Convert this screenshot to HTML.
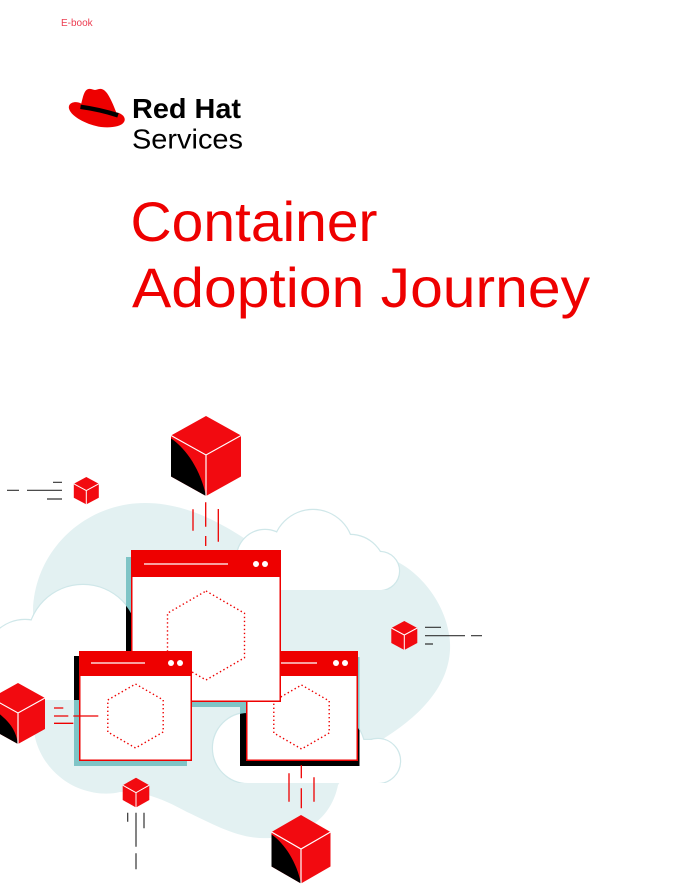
<!DOCTYPE html>
<html>
<head>
<meta charset="utf-8">
<style>
html,body{margin:0;padding:0;background:#fff;}
svg{display:block;}
</style>
</head>
<body>
<svg width="687" height="889" viewBox="0 0 687 889" xmlns="http://www.w3.org/2000/svg">
<defs>
  <g id="cT">
    <circle cx="265" cy="558" r="28"/>
    <circle cx="313" cy="550" r="40"/>
    <circle cx="350" cy="570" r="35"/>
    <circle cx="380" cy="571" r="19"/>
    <rect x="240" y="556" width="140" height="40"/>
  </g>
  <g id="cL">
    <circle cx="83" cy="640" r="55"/>
    <circle cx="25" cy="660" r="40"/>
    <rect x="-10" y="640" width="150" height="70"/>
  </g>
  <g id="cB">
    <circle cx="248" cy="748" r="35"/>
    <circle cx="320" cy="752" r="45"/>
    <circle cx="378" cy="761" r="22"/>
    <rect x="248" y="740" width="130" height="50"/>
  </g>
  <clipPath id="ctop"><rect x="200" y="480" width="220" height="110"/></clipPath>
  <clipPath id="cleft"><rect x="-20" y="560" width="200" height="140"/></clipPath>
  <clipPath id="cbr"><rect x="200" y="690" width="220" height="93"/></clipPath>
  <mask id="m" maskUnits="userSpaceOnUse" x="0" y="0" width="687" height="889">
    <path d="M33,720 L33,610 C35,550 85,503 145,503 C185,503 220,522 250,542 L300,550 L380,555 C420,565 452,610 450,650 C448,690 415,720 378,742 L345,775 L338,785 C333,810 315,835 270,838 C240,840 215,825 187,812 C165,800 145,791 120,792 C100,797 75,790 60,777 C45,765 33,745 33,720 Z" fill="#fff"/>
    <g clip-path="url(#ctop)"><use href="#cT" fill="#000"/></g>
    <g clip-path="url(#cleft)"><use href="#cL" fill="#000"/></g>
    <g clip-path="url(#cbr)"><use href="#cB" fill="#000"/></g>
  </mask>
</defs>

<!-- Header text -->
<text x="61" y="26" font-family="Liberation Sans, sans-serif" font-size="10" fill="#ec3c50">E-book</text>

<!-- Red Hat logo -->
<path d="M69,106 C70,102 77,101 81,103.5 L119,113 C124,115 126,119 124,122 C121,127 110,128 101,127 C88,125 74,118 70,111 C69,109 68.5,107.5 69,106 Z" fill="#ee0000"/>
<path d="M81,105 C83,97 84,90 88.5,89 C91,88.5 93,90 95,90 C97,90 99,88.5 101.5,89 C106,90 110,96 116.5,113 Z" fill="#ee0000"/>
<path d="M80.5,106.8 Q100,109.5 118,115.3" stroke="#000" stroke-width="4.5" fill="none"/>
<text x="132" y="118" font-family="Liberation Sans, sans-serif" font-size="28" font-weight="bold" fill="#000" textLength="109" lengthAdjust="spacingAndGlyphs">Red Hat</text>
<text x="132" y="148.5" font-family="Liberation Sans, sans-serif" font-size="28" fill="#000" textLength="111" lengthAdjust="spacingAndGlyphs">Services</text>

<!-- Title -->
<text x="130.5" y="241" font-family="Liberation Sans, sans-serif" font-size="56" fill="#ee0000" textLength="247" lengthAdjust="spacingAndGlyphs">Container</text>
<text x="132" y="307" font-family="Liberation Sans, sans-serif" font-size="56" fill="#ee0000" textLength="458" lengthAdjust="spacingAndGlyphs">Adoption Journey</text>

<!-- Blob -->
<path d="M33,720 L33,610 C35,550 85,503 145,503 C185,503 220,522 250,542 L300,550 L380,555 C420,565 452,610 450,650 C448,690 415,720 378,742 L345,775 L338,785 C333,810 315,835 270,838 C240,840 215,825 187,812 C165,800 145,791 120,792 C100,797 75,790 60,777 C45,765 33,745 33,720 Z" fill="#e3f1f2"/>

<!-- Clouds -->
<g clip-path="url(#ctop)"><use href="#cT" fill="#fff" stroke="#cfe7e9" stroke-width="2.4"/><use href="#cT" fill="#fff"/></g>
<g clip-path="url(#cleft)"><use href="#cL" fill="#fff" stroke="#cfe7e9" stroke-width="2.4"/><use href="#cL" fill="#fff"/></g>
<g clip-path="url(#cbr)"><use href="#cB" fill="#fff" stroke="#cfe7e9" stroke-width="2.4"/><use href="#cB" fill="#fff"/></g>

<!-- Shadows -->
<g fill="#000">
  <rect x="240" y="657" width="119.5" height="109"/>
  <rect x="126" y="557" width="150" height="150"/>
  <rect x="74" y="656" width="113" height="110"/>
</g>
<g fill="#7fc4c6" mask="url(#m)">
  <rect x="240" y="657" width="119.5" height="109"/>
  <rect x="126" y="557" width="150" height="150"/>
  <rect x="74" y="656" width="113" height="110"/>
</g>

<!-- Window 3 (lower right) -->
<rect x="246.75" y="651.75" width="110.5" height="108.5" fill="#fff" stroke="#ee0000" stroke-width="1.5"/>
<polygon points="301.5,685 329.2,701 329.2,733 301.5,749 273.8,733 273.8,701" fill="none" stroke="#ee0000" stroke-width="1.4" stroke-dasharray="1.4 2.6"/>
<rect x="246" y="651" width="112" height="25" fill="#ee0000"/>
<path d="M270,663 H317" stroke="#fff" stroke-width="1.2"/>
<circle cx="336" cy="663" r="3" fill="#fff"/><circle cx="345" cy="663" r="3" fill="#fff"/>

<!-- Window 1 (big) -->
<rect x="131.75" y="550.75" width="148.5" height="150.5" fill="#fff" stroke="#ee0000" stroke-width="1.5"/>
<polygon points="206,591 244.5,613.25 244.5,657.75 206,680 167.5,657.75 167.5,613.25" fill="none" stroke="#ee0000" stroke-width="1.4" stroke-dasharray="1.4 2.6"/>
<rect x="131" y="550" width="150" height="27" fill="#ee0000"/>
<path d="M144,564 H228" stroke="#fff" stroke-width="1.2"/>
<circle cx="256" cy="564" r="3" fill="#fff"/><circle cx="265" cy="564" r="3" fill="#fff"/>

<!-- Window 2 (lower left) -->
<rect x="79.75" y="651.75" width="111.5" height="108.5" fill="#fff" stroke="#ee0000" stroke-width="1.5"/>
<polygon points="135.5,684 163.2,700 163.2,732 135.5,748 107.8,732 107.8,700" fill="none" stroke="#ee0000" stroke-width="1.4" stroke-dasharray="1.4 2.6"/>
<rect x="79" y="651" width="113" height="25" fill="#ee0000"/>
<path d="M91,663 H145" stroke="#fff" stroke-width="1.2"/>
<circle cx="171" cy="663" r="3" fill="#fff"/><circle cx="180" cy="663" r="3" fill="#fff"/>

<!-- Connector lines -->
<g stroke="#333" stroke-width="1.2" fill="none">
  <path d="M7,490.3 H19 M27,490.3 H62 M53,482.3 H62 M47,499 H62"/>
  <path d="M425,627.3 H441 M425,635.7 H465 M471,635.7 H482 M425,644 H433"/>
  <path d="M127.7,812.7 V821.7 M136,812.7 V846.7 M136,853.3 V869.3 M144,812.7 V828.3"/>
</g>
<g stroke="#ee0000" stroke-width="1.3" fill="none">
  <path d="M193,509.3 V530.7 M205.7,502.3 V526.7 M205.7,536 V546 M218.3,509 V541.7"/>
  <path d="M54,708 H63.3 M54,716 H68.3 M73.3,716 H98.3 M54,723.3 H73.3"/>
  <path d="M289,773.3 V801.7 M301.3,765 V778.3 M301.3,788.3 V808.3 M314,777.3 V801.7"/>
</g>

<!-- Top big cube -->
<polygon points="206,416 241,435.5 241,476.5 206,496 171,476.5 171,435.5" fill="#f20a10"/>
<path d="M171,438.4 C186.75,449.2 200.75,470.5 206,496 L171,476.5 Z" fill="#000"/>
<path d="M171,435.5 L206,455 L241,435.5 M206,455 L206,496" stroke="#fff" stroke-width="1.2" fill="none"/>

<!-- Left cube -->
<polygon points="18,683 45,698 45,729 18,744 -9,729 -9,698" fill="#f20a10"/>
<path d="M-9,707.3 C7.2,719.4 15.3,727 18,744 L-9,729 Z" fill="#000"/>
<path d="M-9,698 L18,713 L45,698 M18,713 L18,744" stroke="#fff" stroke-width="1.2" fill="none"/>

<!-- Bottom big cube -->
<polygon points="301,815 330.5,832 330.5,866.5 301,883.5 271.5,866.5 271.5,832" fill="#f20a10"/>
<path d="M271.5,834.4 C284.8,843.8 296.6,862 301,883.5 L271.5,866.5 Z" fill="#000"/>
<path d="M271.5,832 L301,849 L330.5,832 M301,849 L301,883.5" stroke="#fff" stroke-width="1.2" fill="none"/>

<!-- Small cubes -->
<polygon points="86.3,477 98.8,483.8 98.8,497.8 86.3,504.4 73.8,497.8 73.8,483.8" fill="#f20a10"/>
<path d="M73.8,483.8 L86.3,490.6 L98.8,483.8 M86.3,490.6 L86.3,504.4" stroke="#fff" stroke-width="1" fill="none"/>

<polygon points="404.3,621 417.3,628 417.3,643 404.3,650 391.3,643 391.3,628" fill="#f20a10"/>
<path d="M391.3,628 L404.3,635 L417.3,628 M404.3,635 L404.3,650" stroke="#fff" stroke-width="1" fill="none"/>

<polygon points="136,777.7 149.3,785.2 149.3,800 136,807.5 122.7,800 122.7,785.2" fill="#f20a10"/>
<path d="M122.7,785.2 L136,792.7 L149.3,785.2 M136,792.7 L136,807.5" stroke="#fff" stroke-width="1" fill="none"/>
</svg>
</body>
</html>
